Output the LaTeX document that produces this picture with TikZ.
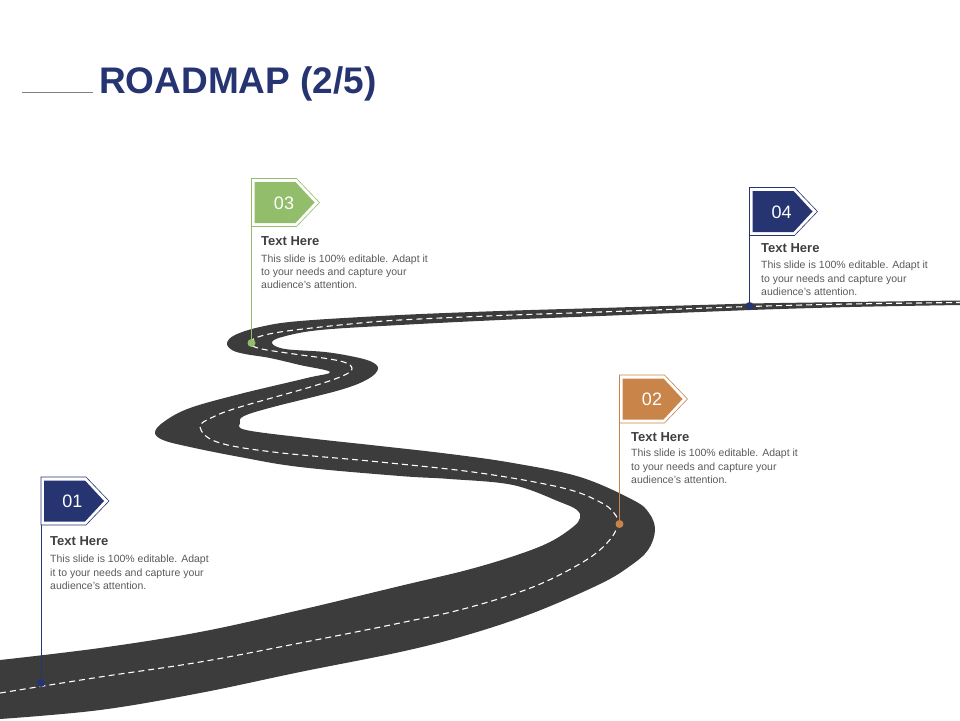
\documentclass[tikz,border=0pt]{standalone}
\usepackage{fontspec}
\setmainfont{Liberation Sans}
\usetikzlibrary{calc}
\definecolor{navy}{HTML}{263471}
\definecolor{leaf}{HTML}{92BD6B}
\definecolor{clay}{HTML}{C9844A}
\definecolor{asphalt}{HTML}{3C3C3C}
\definecolor{headgray}{HTML}{3F3F3F}
\definecolor{bodygray}{HTML}{5A5A5A}
\tikzset{road/.style = {fill=asphalt},
         lane/.style = {draw=white, line width=1.1pt, dash pattern=on 6pt off 4pt},
         pole/.style = {line width=0.8pt},
         flagrim/.style = {fill=white, line width=0.6pt},
         pindot/.style = {circle, inner sep=0pt, minimum size=8pt},
         flagnum/.style = {text=white, inner sep=0pt, font=\fontsize{18}{20}\selectfont},
         heading/.style = {anchor=west, inner sep=0pt, text=headgray, font=\bfseries\fontsize{13}{15}\selectfont},
         blurb/.style = {anchor=north west, inner sep=0pt, align=left, text=bodygray, font=\fontsize{10.5}{13.3}\selectfont}}

\begin{document}
\begin{tikzpicture}[x=1pt, y=-1pt]
      \useasboundingbox (0,0) rectangle (960,720);
      % title
      \draw [gray, line width=0.8pt] (22,92) -- (93,92);
      \node [anchor=base west, inner sep=0pt, text=navy, font=\bfseries\fontsize{37}{40}\selectfont] (title) at (99,93) {ROADMAP (2/5)};
      % road
      \fill [road] plot [smooth, tension=.6] coordinates {(0,660) (100,648) (200,632) (300,610) (400,586) (467,570) (517,555) (550,542) (573,527) (580,518) (577,510) (560,502) (513,485) (450,479) (400,476) (300,467) (240,457) (190,447) (163,440) (155,432) (165,421) (190,408) (240,394) (307,378) (330,372) (300,365) (270,358) (245,354) (232,350) (227,343) (235,335) (260,327) (300,321) (400,315) (500,311) (600,308) (700,305) (750,303.5) (850,302) (960,300.5)}
        -- plot [smooth, tension=.6] coordinates {(960,305) (850,307) (750,310) (700,312) (600,316) (500,320) (400,325) (320,330) (282,337) (272,343) (285,349) (325,352) (355,357) (372,362) (378,369) (368,379) (340,390) (273,407) (244,416) (240,423) (246,430) (307,438) (380,446) (450,454) (513,463) (580,477) (633,500) (649,513) (655,530) (648,550) (630,566) (600,584) (533,613) (467,635) (400,652) (300,672) (200,693) (100,710) (0,719)} -- cycle;
      \draw [lane] plot [smooth, tension=.6] coordinates {(0,693) (100,677) (200,662) (300,643) (400,623) (467,608) (533,587) (583,562) (607,543) (618,525) (614,513) (600,502) (563,488) (480,473) (380,462) (273,452) (217,442) (200,427) (213,417) (240,407) (307,388) (340,377) (352,369) (340,361) (287,353) (262,349) (250,344) (258,337) (287,331) (350,324) (400,320) (500,315.5) (600,312) (750,306.5) (850,304) (960,302.5)};
      % pins
      \node [pindot, fill=navy] (d01) at (41,683) {};
      \node [pindot, fill=clay] (d02) at (619.5,524) {};
      \node [pindot, fill=leaf] (d03) at (251.5,343) {};
      \node [pindot, fill=navy] (d04) at (749.5,306) {};
      \begin{scope}[shift={(41,477)}]
        \coordinate (top01) at (0,0);
        \draw [pole, draw=navy] (top01) -- (d01);
        \draw [flagrim, draw=navy] (0,0) -- (45,0) -- (68,24) -- (45,48) -- (0,48) -- cycle;
        \fill [navy] (3,3.5) -- (44,3.5) -- (63,24) -- (44,44.5) -- (3,44.5) -- cycle;
        \node [flagnum] (n01) at (31.5,24.5) {01};
      \end{scope}
      \begin{scope}[shift={(619.5,375)}]
        \coordinate (top02) at (0,0);
        \draw [pole, draw=clay] (top02) -- (d02);
        \draw [flagrim, draw=clay] (0,0) -- (45,0) -- (68,24) -- (45,48) -- (0,48) -- cycle;
        \fill [clay] (3,3.5) -- (44,3.5) -- (63,24) -- (44,44.5) -- (3,44.5) -- cycle;
        \node [flagnum] (n02) at (32.5,24.5) {02};
      \end{scope}
      \begin{scope}[shift={(251.5,178.5)}]
        \coordinate (top03) at (0,0);
        \draw [pole, draw=leaf] (top03) -- (d03);
        \draw [flagrim, draw=leaf] (0,0) -- (45,0) -- (68,24) -- (45,48) -- (0,48) -- cycle;
        \fill [leaf] (3,3.5) -- (44,3.5) -- (63,24) -- (44,44.5) -- (3,44.5) -- cycle;
        \node [flagnum] (n03) at (32.5,24.5) {03};
      \end{scope}
      \begin{scope}[shift={(749.5,187.5)}]
        \coordinate (top04) at (0,0);
        \draw [pole, draw=navy] (top04) -- (d04);
        \draw [flagrim, draw=navy] (0,0) -- (45,0) -- (68,24) -- (45,48) -- (0,48) -- cycle;
        \fill [navy] (3,3.5) -- (44,3.5) -- (63,24) -- (44,44.5) -- (3,44.5) -- cycle;
        \node [flagnum] (n04) at (32,24.5) {04};
      \end{scope}
      % texts
      \node [heading] (h01) at (50,541) {Text Here};
      \node [blurb] (b01) at (50,555) {This slide is 100\% editable. Adapt\\it to your needs and capture your\\audience's attention.};
      \node [heading] (h02) at (631,437) {Text Here};
      \node [blurb] (b02) at (631,449) {This slide is 100\% editable. Adapt it\\to your needs and capture your\\audience's attention.};
      \node [heading] (h03) at (261,241) {Text Here};
      \node [blurb] (b03) at (261,254.5) {This slide is 100\% editable. Adapt it\\to your needs and capture your\\audience's attention.};
      \node [heading] (h04) at (761,248) {Text Here};
      \node [blurb] (b04) at (761,261) {This slide is 100\% editable. Adapt it\\to your needs and capture your\\audience's attention.};
    \end{tikzpicture}
\end{document}
